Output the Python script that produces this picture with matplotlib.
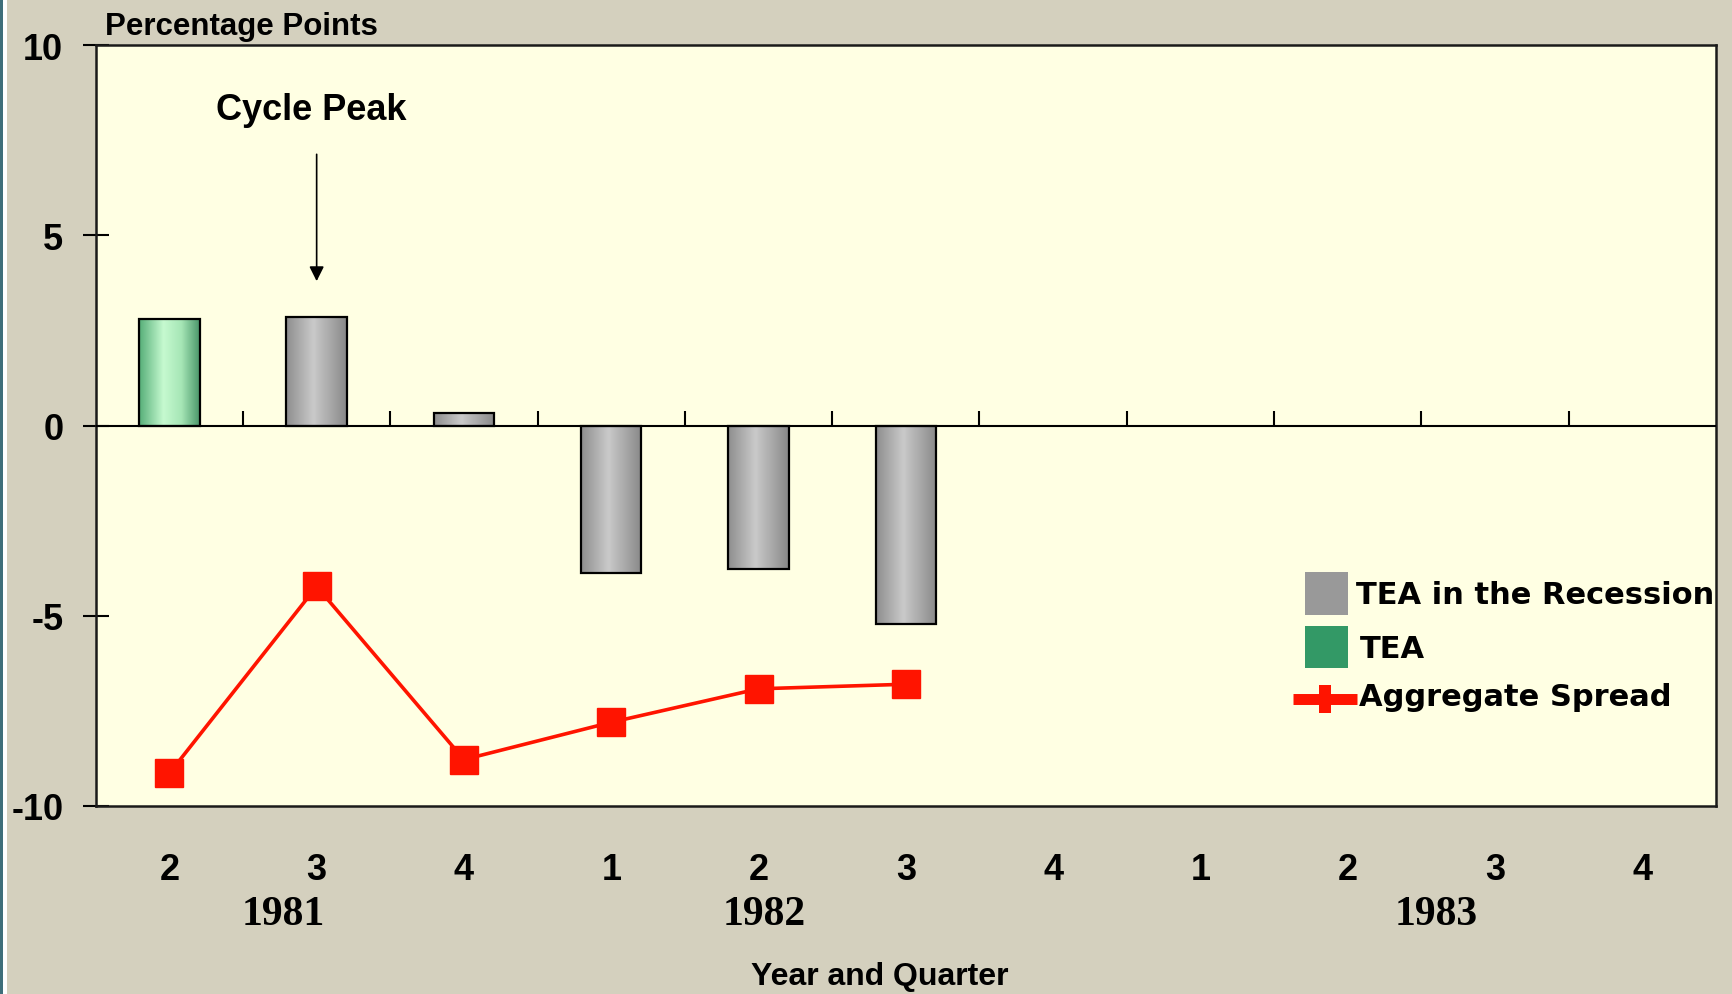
import numpy as np
import matplotlib.pyplot as plt
import matplotlib.transforms as mtransforms
from matplotlib.colors import LinearSegmentedColormap
from matplotlib.patches import Rectangle
from matplotlib.lines import Line2D

# Data (percentage points)
quarters = ['2', '3', '4', '1', '2', '3', '4', '1', '2', '3', '4']
years = ['1981', '1982', '1983']
year_pos = [0.77, 4.04, 8.6]
tea = [2.80, None, None, None, None, None, None, None, None, None, None]
tea_recession = [None, 2.86, 0.32, -3.88, -3.77, -5.21, None, None, None, None, None]
spread = [-9.14, -4.23, -8.78, -7.80, -6.92, -6.80, None, None, None, None, None]

BG = '#D4D0BE'
PLOT_BG = '#FFFFE3'
RED = '#FF1400'
W, H = 1733, 995

plt.rcParams['font.family'] = ['Liberation Sans', 'DejaVu Sans']
plt.rcParams['font.weight'] = 'bold'
plt.rcParams['axes.unicode_minus'] = False


def fx(x):
    return x / W


def fy(y):
    return 1 - y / H


fig = plt.figure(figsize=(W / 100, H / 100), dpi=100, facecolor=BG)
ax = fig.add_axes([fx(95.7), fy(807), (1716 - 95.7) / W, (807 - 46) / H])
ax.set_facecolor(PLOT_BG)

x = np.arange(len(quarters))
tea_arr = np.array(tea, dtype=float)
rec_arr = np.array(tea_recession, dtype=float)
spread_arr = np.array(spread, dtype=float)

bars_tea = ax.bar(x, tea_arr, width=0.41, facecolor='none', edgecolor='black', lw=1.6, zorder=3)
bars_rec = ax.bar(x, rec_arr, width=0.41, facecolor='none', edgecolor='black', lw=1.6, zorder=3)

# cylinder-like shading inside the bars
gray_cmap = LinearSegmentedColormap.from_list(
    'g', [(0, '#8E8E8E'), (0.45, '#CACACA'), (1, '#888888')])
green_cmap = LinearSegmentedColormap.from_list(
    'gr', [(0, '#56AE78'), (0.4, '#C6FAD0'), (0.7, '#A6E6B6'), (1, '#4A966A')])
grad = np.linspace(0, 1, 128)[np.newaxis, :]


def shade(bars, cmap):
    for p in bars:
        h = p.get_height()
        if not np.isfinite(h):
            continue
        x0, w, y0 = p.get_x(), p.get_width(), p.get_y()
        ax.imshow(grad, cmap=cmap, aspect='auto', interpolation='bicubic',
                  extent=[x0, x0 + w, min(y0, y0 + h), max(y0, y0 + h)], zorder=2)


shade(bars_tea, green_cmap)
shade(bars_rec, gray_cmap)

ax.plot(x, spread_arr, color=RED, lw=2.6, marker='s', ms=20, mec=RED, mfc=RED, zorder=4)

# zero line with category separators
ax.axhline(0, color='black', lw=1.5, zorder=3)
ax.vlines(x[:-1] + 0.5, 0, 0.37, color='black', lw=1.5, zorder=3)

ax.set_xlim(-0.5, len(quarters) - 0.5)
ax.set_ylim(-10, 10)

ax.set_yticks([-10, -5, 0, 5, 10])
ax.tick_params(axis='y', direction='inout', length=18.7, width=1.5, pad=14, labelsize=26)
ax.set_xticks(x, quarters)
ax.tick_params(axis='x', length=0, pad=33, labelsize=26)
for sp in ax.spines.values():
    sp.set_linewidth(1.8)
    sp.set_color('#1A1A1A')

trans = mtransforms.blended_transform_factory(ax.transData, ax.transAxes)
for yr, pos in zip(years, year_pos):
    ax.text(pos, -0.142, yr, transform=trans, ha='center', va='center',
            family='Liberation Serif', weight='bold', size=30)

# annotation
ax.annotate('', xy=(1, 3.72), xytext=(1, 7.2),
            arrowprops=dict(arrowstyle='-|>', color='black', lw=1.2, mutation_scale=22))
fig.text(fx(216), fy(120), 'Cycle Peak', size=26, va='baseline')

fig.text(fx(105), fy(35), 'Percentage Points', size=22.5, va='baseline')
fig.text(fx(880), fy(962), 'Year and Quarter', size=23, ha='center', va='top')

# legend, drawn by hand
fig.add_artist(Rectangle((fx(1305), fy(616)), 43 / W, 43 / H, transform=fig.transFigure,
                         facecolor='#999999', edgecolor='none'))
fig.add_artist(Rectangle((fx(1305), fy(669)), 43 / W, 42 / H, transform=fig.transFigure,
                         facecolor='#339966', edgecolor='none'))
fig.add_artist(Line2D([fx(1293), fx(1357)], [fy(699.5), fy(699.5)], lw=7.9, color=RED,
                      solid_capstyle='butt', transform=fig.transFigure))
fig.add_artist(Rectangle((fx(1319), fy(714)), 12 / W, 28 / H, transform=fig.transFigure,
                         facecolor=RED, edgecolor='none'))
for label, lx, ly in [('TEA in the Recession', 1356, 596),
                      ('TEA', 1360, 649),
                      ('Aggregate Spread', 1359, 698)]:
    t = fig.text(fx(lx), fy(ly), label, family='DejaVu Sans', weight='bold',
                 size=22, va='center')
    t.set_clip_box(ax.bbox)
    t.set_clip_on(True)

# window border on the left
fig.add_artist(Rectangle((0, 0), 3.5 / W, 1, transform=fig.transFigure,
                         facecolor='#3E6E7A', edgecolor='none'))
fig.add_artist(Rectangle((3.5 / W, 0), 3.5 / W, 1, transform=fig.transFigure,
                         facecolor='white', edgecolor='none'))

fig.savefig('out.png', dpi=100, facecolor=BG)
